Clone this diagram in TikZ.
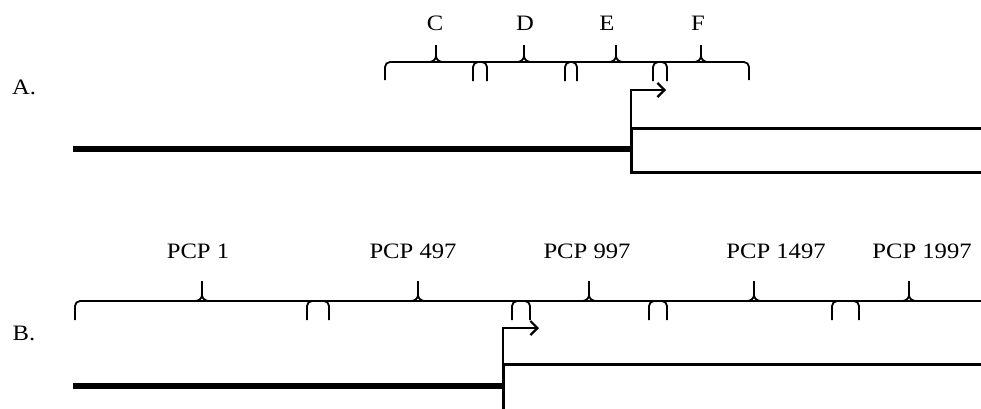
\documentclass[tikz,border=0pt]{standalone}
\usepackage{fontspec}
\setmainfont{Liberation Serif}[FakeStretch=1.12]
\usetikzlibrary{arrows.meta}
\tikzset{
  brk/.style={line width=1.8pt, rounded corners=5pt},
  tickln/.style={line width=1.8pt},
  boxln/.style={line width=3pt},
  dnaln/.style={line width=6pt},
  tss/.style={line width=2.2pt, -{Straight Barb[length=7pt,width=14pt,line width=2.2pt]}},
  lbl/.style={font=\fontsize{22}{26}\selectfont, anchor=base, inner sep=0pt}
}
\newcommand{\mytick}[3]{% x, baseline y, top y
  \draw[tickln] (#1-7,#2) to[out=0,in=-90] (#1,#2-6) -- (#1,#3);
  \draw[tickln] (#1+7,#2) to[out=180,in=-90] (#1,#2-6);
}
\newcommand{\myovl}[4]{% x1, x2, base y, bottom y
  \draw[brk] (#1,#4) -- (#1,#3) -- (#2,#3) -- (#2,#4);
}
\begin{document}
\begin{tikzpicture}[x=1pt,y=-1pt]
\useasboundingbox (0,0) rectangle (981,408);
% ---------- Panel A ----------
\node[lbl] (labA) at (24,94) {A.};
\draw[brk] (385,80) -- (385,62) -- (749,62) -- (749,80);
\myovl{473}{487}{62}{81}
\myovl{565}{577}{62}{81}
\myovl{653}{667}{62}{81}
\mytick{436}{62}{45}
\mytick{524}{62}{45}
\mytick{616}{62}{45}
\mytick{701}{62}{45}
\node[lbl] (C) at (435,30) {C};
\node[lbl] (D) at (525,30) {D};
\node[lbl] (E) at (607,30) {E};
\node[lbl] (F) at (698,30) {F};
\coordinate (a0) at (73,149);
\coordinate (a1) at (631,149);
\coordinate (aT) at (631,128);
\coordinate (aB) at (631,172);
\coordinate (aTR) at (981,128);
\coordinate (aBR) at (981,172);
\coordinate (aUp) at (631,90);
\coordinate (aArr) at (666,90);
\draw[dnaln] (a0) -- (a1);
\draw[boxln] (aTR) -- (aT);
\draw[boxln] (aBR) -- (aB);
\draw[boxln] ([yshift=-1.5pt]aB) -- (aT);
\draw[tss] (aT) -- (aUp) -- (aArr);
% ---------- Panel B ----------
\node[lbl] (labB) at (24,340) {B.};
\draw[brk] (75,320) -- (75,301) -- (990,301);
\myovl{307}{329}{301}{320}
\myovl{512}{530}{301}{320}
\myovl{649}{667}{301}{320}
\myovl{832}{859}{301}{320}
\mytick{202}{301}{281}
\mytick{418}{301}{281}
\mytick{589}{301}{281}
\mytick{754}{301}{281}
\mytick{909}{301}{281}
\node[lbl] (p1) at (198,258) {PCP 1};
\node[lbl] (p497) at (413,258) {PCP 497};
\node[lbl] (p997) at (587,258) {PCP 997};
\node[lbl] (p1497) at (776,258) {PCP 1497};
\node[lbl] (p1997) at (922,258) {PCP 1997};
\coordinate (b0) at (73,386);
\coordinate (b1) at (503,386);
\coordinate (bT) at (503,364);
\coordinate (bTR) at (981,364);
\coordinate (bB) at (503,410);
\coordinate (bUp) at (503,328);
\coordinate (bArr) at (539,328);
\draw[dnaln] (b0) -- (b1);
\draw[boxln] (bTR) -- (bT);
\draw[boxln] (bB) -- (bT);
\draw[tss] (bT) -- (bUp) -- (bArr);
\end{tikzpicture}
\end{document}
